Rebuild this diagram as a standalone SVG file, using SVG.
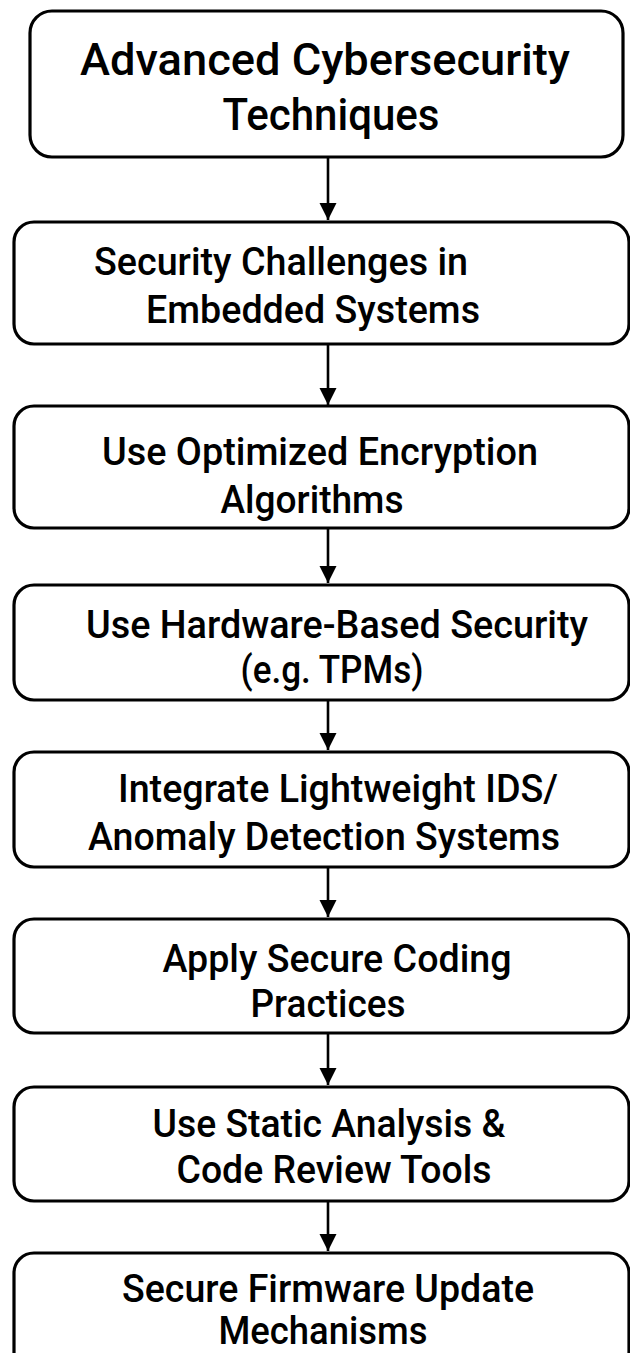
<svg xmlns="http://www.w3.org/2000/svg" width="630" height="1353" viewBox="0 0 630 1353">
  <style>
    .box { fill: #ffffff; stroke: #000000; stroke-width: 3.2; }
    .lbl { font-family: Roboto, "Liberation Sans", Arial, sans-serif; font-weight: 500; font-size: 39px; fill: #000000; text-anchor: middle; }
    .ttl { font-size: 45px; }
    .edge { stroke: #000000; stroke-width: 2.6; fill: none; marker-end: url(#head); }
  </style>
  <defs>
    <marker id="head" markerUnits="userSpaceOnUse" markerWidth="18" markerHeight="18" refX="17" refY="9" orient="auto">
      <path d="M0,0.5 L17,9 L0,17.5 z" fill="#000000"/>
    </marker>
  </defs>
  <rect width="630" height="1353" fill="#ffffff"/>

  <g id="connectors">
    <line class="edge" x1="328" y1="158" x2="328" y2="220"/>
    <line class="edge" x1="328" y1="345" x2="328" y2="405"/>
    <line class="edge" x1="328" y1="529" x2="328" y2="583"/>
    <line class="edge" x1="328" y1="701" x2="328" y2="750"/>
    <line class="edge" x1="328" y1="868" x2="328" y2="917"/>
    <line class="edge" x1="328" y1="1034" x2="328" y2="1085"/>
    <line class="edge" x1="328" y1="1202" x2="328" y2="1251"/>
  </g>

  <g id="node-advanced-cybersecurity">
    <rect class="box" x="30" y="11" width="593" height="146" rx="22"/>
    <text class="lbl ttl" x="325" y="75" textLength="490" lengthAdjust="spacingAndGlyphs">Advanced Cybersecurity</text>
    <text class="lbl ttl" x="331" y="130" textLength="217" lengthAdjust="spacingAndGlyphs">Techniques</text>
  </g>

  <g id="node-security-challenges">
    <rect class="box" x="14" y="222" width="615" height="122" rx="20"/>
    <text class="lbl" x="281" y="275" textLength="374" lengthAdjust="spacingAndGlyphs">Security Challenges in</text>
    <text class="lbl" x="313" y="323" textLength="334" lengthAdjust="spacingAndGlyphs">Embedded Systems</text>
  </g>

  <g id="node-encryption">
    <rect class="box" x="14" y="406" width="615" height="122" rx="20"/>
    <text class="lbl" x="320" y="465" textLength="436" lengthAdjust="spacingAndGlyphs">Use Optimized Encryption</text>
    <text class="lbl" x="312" y="513" textLength="183" lengthAdjust="spacingAndGlyphs">Algorithms</text>
  </g>

  <g id="node-hardware-security">
    <rect class="box" x="14" y="585" width="615" height="115" rx="20"/>
    <text class="lbl" x="337" y="638" textLength="502" lengthAdjust="spacingAndGlyphs">Use Hardware-Based Security</text>
    <text class="lbl" x="332" y="683" textLength="183" lengthAdjust="spacingAndGlyphs">(e.g. TPMs)</text>
  </g>

  <g id="node-ids">
    <rect class="box" x="14" y="752" width="615" height="115" rx="20"/>
    <text class="lbl" x="338" y="802" textLength="440" lengthAdjust="spacingAndGlyphs">Integrate Lightweight IDS/</text>
    <text class="lbl" x="324" y="850" textLength="472" lengthAdjust="spacingAndGlyphs">Anomaly Detection Systems</text>
  </g>

  <g id="node-secure-coding">
    <rect class="box" x="14" y="919" width="615" height="114" rx="20"/>
    <text class="lbl" x="337" y="972" textLength="349" lengthAdjust="spacingAndGlyphs">Apply Secure Coding</text>
    <text class="lbl" x="328" y="1017" textLength="155" lengthAdjust="spacingAndGlyphs">Practices</text>
  </g>

  <g id="node-static-analysis">
    <rect class="box" x="14" y="1087" width="615" height="114" rx="20"/>
    <text class="lbl" x="329" y="1137" textLength="353" lengthAdjust="spacingAndGlyphs">Use Static Analysis &amp;</text>
    <text class="lbl" x="334" y="1183" textLength="315" lengthAdjust="spacingAndGlyphs">Code Review Tools</text>
  </g>

  <g id="node-firmware-update">
    <rect class="box" x="14" y="1253" width="615" height="130" rx="20"/>
    <text class="lbl" x="328" y="1302" textLength="412" lengthAdjust="spacingAndGlyphs">Secure Firmware Update</text>
    <text class="lbl" x="323" y="1344" textLength="209" lengthAdjust="spacingAndGlyphs">Mechanisms</text>
  </g>
</svg>
